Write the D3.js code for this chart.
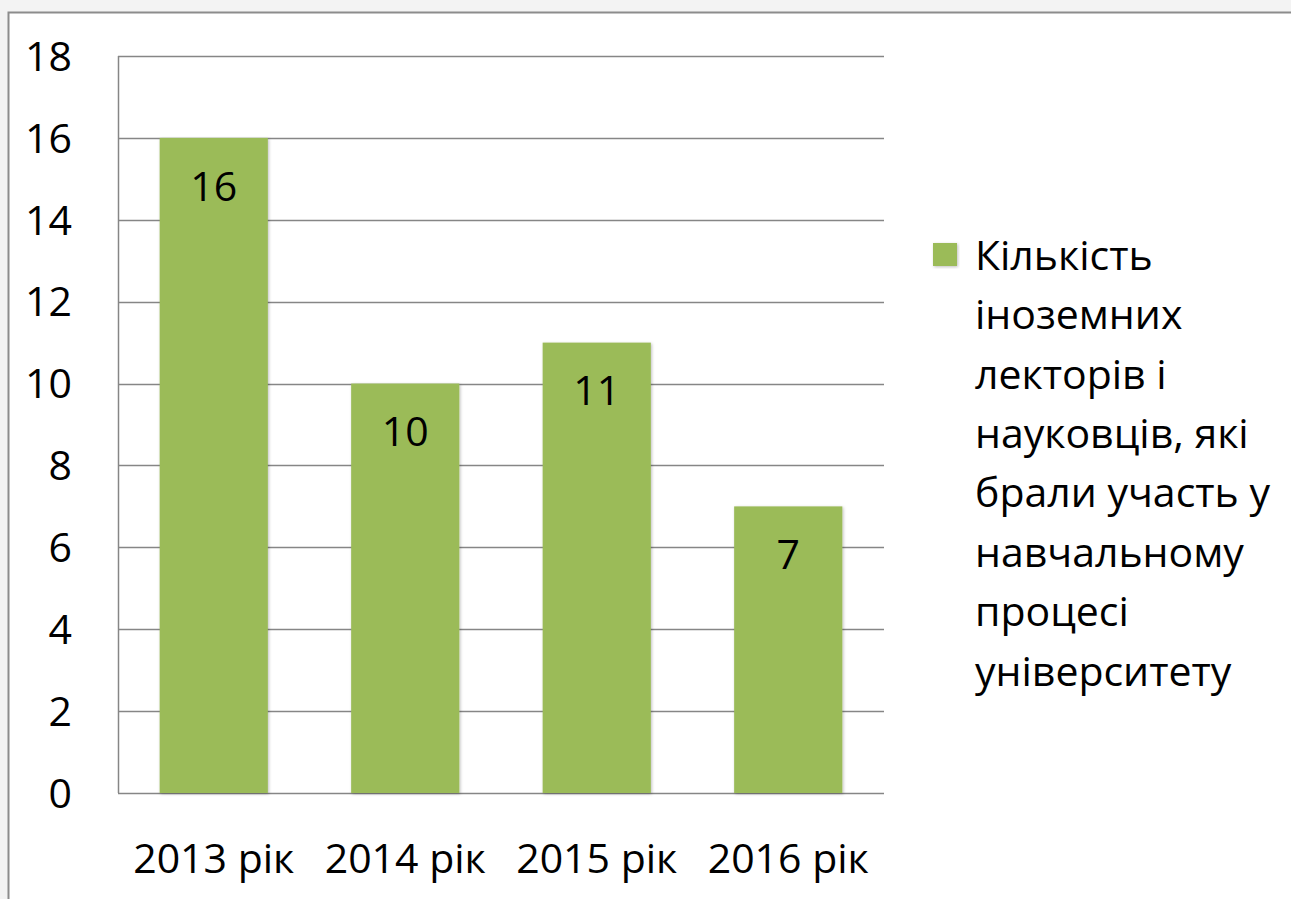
<!DOCTYPE html>
<html>
<head>
<meta charset="utf-8">
<style>
    body { margin: 0; background: #f3f3f3; }
    text { font-family: "Open Sans", sans-serif; fill: #000; }
</style>
</head>
<body>
<script src="https://cdn.jsdelivr.net/npm/d3@7"></script>
<script>

    var years = ["2013 рік", "2014 рік", "2015 рік", "2016 рік"];
    var counts = [16, 10, 11, 7];
    var yTicks = [0, 2, 4, 6, 8, 10, 12, 14, 16, 18];
    var legendLines = ["Кількість", "іноземних", "лекторів і", "науковців, які",
        "брали участь у", "навчальному", "процесі", "університету"];

    var width = 1291, height = 899;
    var plotLeft = 118, plotRight = 884, plotTop = 56, plotBottom = 793;
    var fontSize = "41px";

    var svg = d3.select("body").append("svg")
        .attr("width", width)
        .attr("height", height)
        .style("display", "block");

    // chart frame
    svg.append("rect")
        .attr("x", 8.5).attr("y", 12.5)
        .attr("width", width).attr("height", height)
        .attr("fill", "#fff")
        .attr("stroke", "#8c8c8c")
        .attr("stroke-width", 2);

    var x = d3.scaleBand().domain(years).range([plotLeft, plotRight]).paddingInner(0.435).paddingOuter(0.2175);
    var y = d3.scaleLinear().domain([0, 18]).range([plotBottom, plotTop]);

    // gridlines
    svg.append("g").selectAll("line")
        .data(yTicks)
        .enter().append("line")
        .attr("x1", plotLeft).attr("x2", plotRight)
        .attr("y1", function (d) { return Math.round(y(d)) + 0.5; })
        .attr("y2", function (d) { return Math.round(y(d)) + 0.5; })
        .attr("stroke", "#868686")
        .attr("stroke-width", 1.5);

    svg.append("line")
        .attr("x1", plotLeft + 0.5).attr("x2", plotLeft + 0.5)
        .attr("y1", plotTop).attr("y2", plotBottom)
        .attr("stroke", "#868686")
        .attr("stroke-width", 1.5);

    // y labels
    svg.append("g").selectAll("text")
        .data(yTicks)
        .enter().append("text")
        .attr("x", 72)
        .attr("y", function (d) { return y(d); })
        .attr("dy", "0.36em")
        .attr("text-anchor", "end")
        .style("font-size", fontSize)
        .text(function (d) { return d; });

    var defs = svg.append("defs");
    var f = defs.append("filter").attr("id", "sh").attr("x", "-10%").attr("y", "-10%").attr("width", "120%").attr("height", "120%");
    f.append("feDropShadow").attr("dx", 1).attr("dy", 1).attr("stdDeviation", 1.5).attr("flood-color", "#000").attr("flood-opacity", 0.25);

    // bars
    svg.append("g").selectAll("rect")
        .data(counts)
        .enter().append("rect")
        .attr("x", function (d, i) { return x(years[i]); })
        .attr("y", function (d) { return y(d); })
        .attr("width", x.bandwidth())
        .attr("height", function (d) { return plotBottom - y(d); })
        .attr("fill", "#9bbb59")
        .attr("filter", "url(#sh)");

    // value labels
    svg.append("g").selectAll("text")
        .data(counts)
        .enter().append("text")
        .attr("x", function (d, i) { return x(years[i]) + x.bandwidth() / 2; })
        .attr("y", function (d) { return y(d) + 48; })
        .attr("dy", "0.36em")
        .attr("text-anchor", "middle")
        .style("font-size", fontSize)
        .text(function (d) { return d; });

    // x labels
    svg.append("g").selectAll("text")
        .data(years)
        .enter().append("text")
        .attr("x", function (d) { return x(d) + x.bandwidth() / 2; })
        .attr("y", 858)
        .attr("dy", "0.36em")
        .attr("text-anchor", "middle")
        .style("font-size", fontSize)
        .text(function (d) { return d; });

    // legend
    svg.append("rect")
        .attr("x", 933).attr("y", 243)
        .attr("width", 24).attr("height", 23)
        .attr("fill", "#9bbb59")
        .attr("filter", "url(#sh)");

    svg.append("g").selectAll("text")
        .data(legendLines)
        .enter().append("text")
        .attr("x", 975)
        .attr("y", function (d, i) { return 255 + i * 59.4; })
        .attr("dy", "0.36em")
        .style("font-size", fontSize)
        .text(function (d) { return d; });

</script>
</body>
</html>
